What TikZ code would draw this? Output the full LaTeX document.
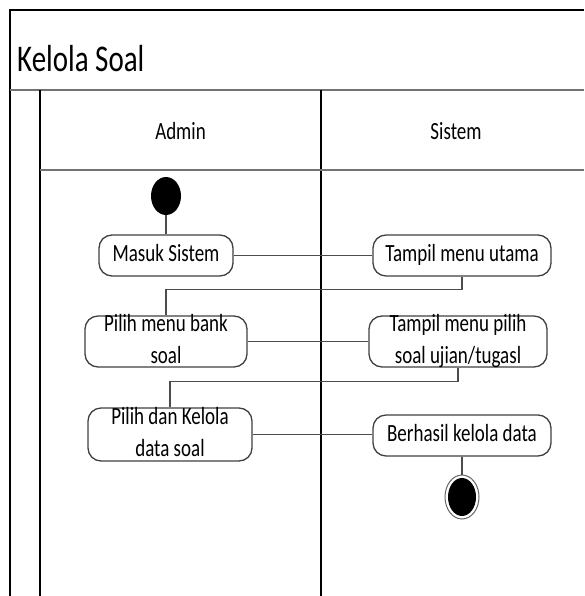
\documentclass[tikz,border=0pt]{standalone}
\usepackage{fontspec}
\usepackage{graphicx}
\setmainfont{Carlito}
\usetikzlibrary{shapes.geometric}
\newcommand\stretchtxt[1]{\scalebox{1}[1.3]{\fontsize{19}{24.5}\selectfont\begin{tabular}{@{}c@{}}#1\end{tabular}}}
\tikzset{
  actbox/.style={draw=black!75, line width=1.3pt, rounded corners=13pt, fill=white, inner sep=0pt},
  acttxt/.style={inner sep=0pt, anchor=center},
  flow/.style={draw=black!70, line width=1.5pt},
  lane/.style={draw=black, line width=1.2pt},
  sep/.style={draw=black!55, line width=2pt},
}
\begin{document}
\begin{tikzpicture}[x=1pt,y=-1pt]
\useasboundingbox (0,0) rectangle (584,596);
% frame and lanes
\draw[lane] (10,596) -- (10,10) -- (584,10);
\draw[sep] (10,90) -- (584,90);
\draw[lane] (40,90) -- (40,596);
\draw[lane] (321,90) -- (321,596);
\draw[sep] (40,170) -- (584,170);
% titles
\node[anchor=base west, inner sep=0pt] (title) at (17,72) {\scalebox{1}[1.3]{\fontsize{29}{34}\selectfont Kelola Soal}};
\node[acttxt] (admin) at (180.5,133) {\stretchtxt{Admin}};
\node[acttxt] (sistem) at (456,133) {\stretchtxt{Sistem}};
% start
\node[ellipse, fill=black, minimum width=30pt, minimum height=38pt, inner sep=0pt] (start) at (166,196) {};
% activities
\node[actbox, minimum width=134pt, minimum height=41pt] (b1) at (166,255.5) {};
\node[acttxt] (t1) at (b1.center) {\stretchtxt{Masuk Sistem}};
\node[actbox, minimum width=178pt, minimum height=41pt] (b2) at (462,255.5) {};
\node[acttxt] (t2) at (b2.center) {\stretchtxt{Tampil menu utama}};
\node[actbox, minimum width=162pt, minimum height=51pt] (b3) at (166,341.5) {};
\node[acttxt] (t3) at (b3.center) {\stretchtxt{Pilih menu bank\\soal}};
\node[actbox, minimum width=178pt, minimum height=51pt] (b4) at (458,341.5) {};
\node[acttxt] (t4) at (b4.center) {\stretchtxt{Tampil menu pilih\\soal ujian/tugasl}};
\node[actbox, minimum width=164pt, minimum height=53pt] (b5) at (170,434.5) {};
\node[acttxt] (t5) at (b5.center) {\stretchtxt{Pilih dan Kelola\\data soal}};
\node[actbox, minimum width=178pt, minimum height=41pt] (b6) at (462,435.5) {};
\node[acttxt] (t6) at (b6.center) {\stretchtxt{Berhasil kelola data}};
% end
\node[ellipse, draw=black!60, line width=1pt, fill=white, minimum width=34pt, minimum height=44pt, inner sep=0pt] (endo) at (462,497) {};
\node[ellipse, fill=black, minimum width=28pt, minimum height=38pt, inner sep=0pt] (endi) at (endo.center) {};
% connectors
\draw[flow] (start.south) -- (b1.north);
\draw[flow] (b1.east) -- (b2.west);
\draw[flow] (b2.south) -- ++(0,13) -| (b3.north);
\draw[flow] (b3.east) -- (b4.west);
\draw[flow] (b4.south) -- ++(0,14) -| (b5.north);
\draw[flow] (b5.east) -- (b5.east -| b6.west);
\draw[flow] (b6.south) -- (endo.north);
\end{tikzpicture}
\end{document}
